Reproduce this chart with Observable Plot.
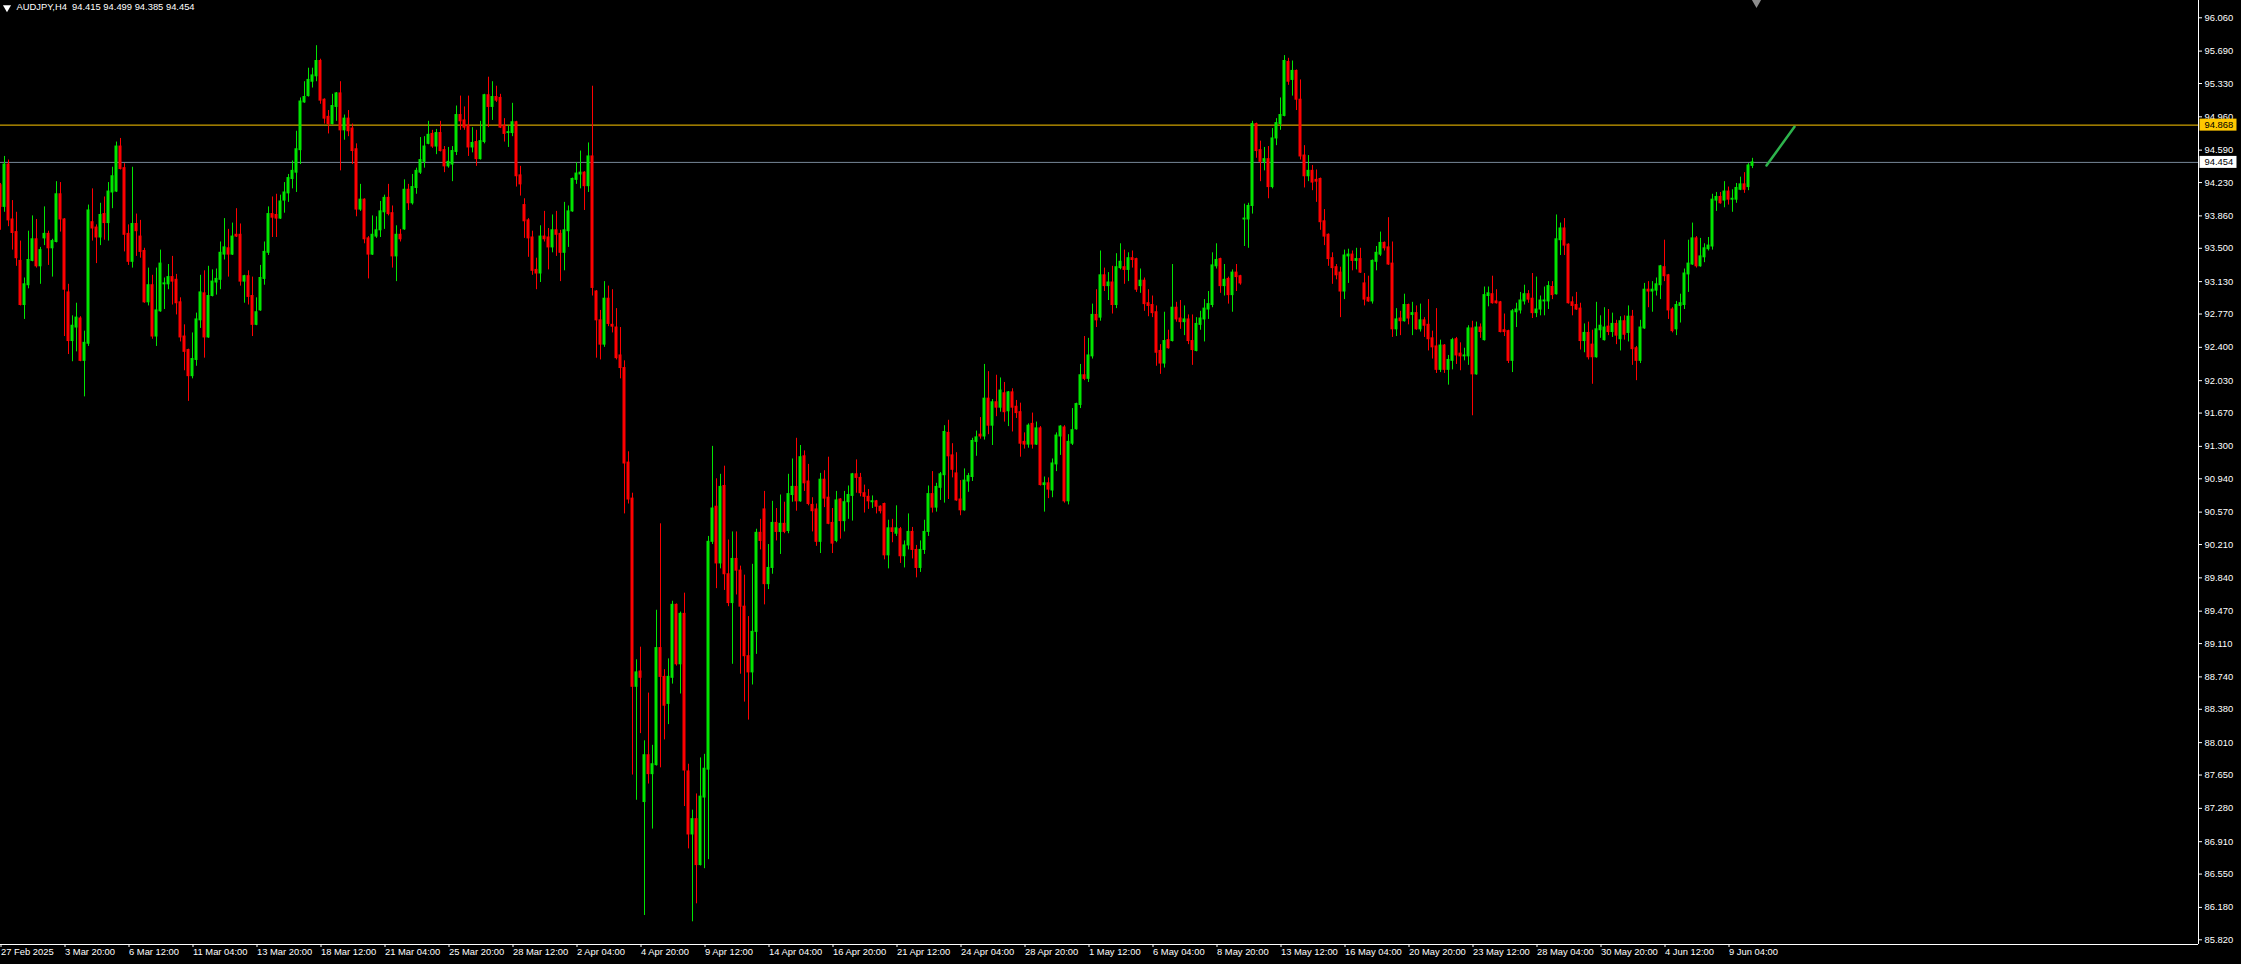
<!DOCTYPE html>
<html><head><meta charset="utf-8">
<script src="https://cdn.jsdelivr.net/npm/d3@7"></script>
<script src="https://cdn.jsdelivr.net/npm/@observablehq/plot@0.6"></script>
<style>
html,body{margin:0;padding:0;background:#000;overflow:hidden;}
#chart svg{display:block;}
</style></head><body><div id="chart"></div>
<script>
const symbolInfo = "AUDJPY,H4  94.415 94.499 94.385 94.454";

const open = [
94.20,93.96,94.43,93.82,93.68,93.36,92.87,93.09,93.36,93.60,93.30,93.61,93.66,93.50,93.57,94.10,93.82,93.01,92.47,92.62,
92.72,92.25,92.44,93.79,93.73,93.62,93.88,93.78,94.12,94.13,94.63,94.39,93.66,93.35,93.77,93.63,93.47,92.90,93.09,92.52,
92.80,93.10,93.10,93.18,93.15,92.90,92.52,92.37,92.08,92.26,92.70,93.00,92.51,92.97,93.12,93.15,93.43,93.50,93.43,93.65,
93.65,93.13,93.19,92.97,92.65,92.81,93.16,93.45,93.88,93.87,93.83,94.03,94.11,94.27,94.34,94.59,95.12,95.19,95.35,95.41,
95.58,95.15,94.96,94.88,95.07,95.22,94.81,94.94,94.83,94.60,93.93,94.04,93.61,93.43,93.63,93.70,93.90,94.06,93.89,93.41,
93.65,93.71,94.15,94.00,94.17,94.34,94.46,94.66,94.77,94.63,94.78,94.59,94.41,94.43,94.57,94.98,94.92,94.86,94.62,94.68,
94.49,94.68,95.20,95.07,95.18,95.17,94.86,94.78,94.78,94.90,94.31,93.98,93.81,93.62,93.26,93.22,93.63,93.62,93.51,93.70,
93.66,93.45,93.69,93.91,94.26,94.32,94.34,94.19,94.52,93.02,92.70,92.43,92.94,92.65,92.62,92.31,92.17,91.12,90.72,88.63,
88.80,87.35,87.87,87.66,87.76,89.06,88.74,88.44,88.73,89.54,88.88,89.44,87.69,86.99,87.16,86.65,87.40,87.71,90.24,90.63,
90.00,90.86,89.88,89.56,90.05,89.92,89.52,88.97,88.79,89.24,90.34,90.60,89.77,89.95,90.45,90.35,90.44,90.36,90.76,90.85,
90.69,91.19,90.91,90.65,90.60,90.24,90.93,90.73,90.45,90.25,90.71,90.47,90.68,90.75,90.99,90.95,90.78,90.74,90.68,90.69,
90.63,90.66,90.09,90.39,90.33,90.38,90.08,90.20,90.35,90.15,89.95,90.15,90.35,90.77,90.62,90.84,90.98,91.45,91.20,91.00,
90.71,90.59,90.91,90.96,91.35,91.43,91.41,91.83,91.53,91.79,91.73,91.89,91.69,91.90,91.74,91.68,91.35,91.32,91.55,91.32,
91.50,90.87,90.89,90.81,91.10,91.41,91.51,90.69,91.33,91.49,91.76,92.09,92.05,92.30,92.76,92.73,93.20,93.08,93.12,92.87,
93.28,93.29,93.26,93.39,93.38,93.08,93.14,92.89,92.87,92.79,92.36,92.22,92.48,92.47,92.84,92.72,92.68,92.71,92.47,92.36,
92.65,92.71,92.82,92.87,93.30,93.38,93.08,93.16,92.98,93.23,93.19,93.82,93.82,93.97,94.88,94.59,94.46,94.49,94.18,94.72,
94.88,94.97,95.57,95.37,95.47,95.15,94.53,94.30,94.36,94.26,94.27,93.80,93.65,93.39,93.29,93.23,93.02,93.41,93.43,93.36,
93.38,93.11,92.95,92.91,93.35,93.43,93.56,93.51,93.33,92.60,92.72,92.69,92.87,92.76,92.78,92.60,92.70,92.65,92.50,92.41,
92.15,92.42,92.15,92.25,92.49,92.33,92.30,92.30,92.61,92.10,92.62,92.48,92.97,92.99,92.91,92.90,92.59,92.58,92.25,92.79,
92.81,92.91,92.99,92.94,92.78,92.82,92.91,92.91,93.07,92.99,93.59,93.72,93.54,92.90,92.87,92.83,92.47,92.56,92.43,92.29,
92.59,92.48,92.63,92.57,92.66,92.49,92.69,92.56,92.74,92.39,92.25,92.61,93.04,93.02,93.03,93.09,93.29,93.20,92.82,92.60,
92.86,92.87,93.21,93.32,93.61,93.30,93.40,93.49,93.52,94.03,94.07,94.03,94.13,94.04,94.04,94.15,94.21,94.18,94.415
];
const high = [
94.22,94.52,94.48,94.03,93.90,93.58,93.17,93.69,93.86,93.82,93.51,93.96,93.69,93.60,94.24,94.23,93.83,93.10,92.75,92.89,
92.74,92.58,93.98,94.16,93.76,94.00,94.07,94.23,94.40,94.68,94.72,94.44,93.76,94.40,93.88,93.81,93.50,93.28,93.20,93.28,
93.48,93.17,93.32,93.41,93.21,92.95,92.65,92.38,92.56,92.78,93.20,93.25,93.30,93.26,93.27,93.57,93.83,93.71,93.78,93.94,
93.77,93.20,93.25,93.18,92.95,93.31,93.57,93.96,94.07,94.10,94.09,94.23,94.32,94.47,94.80,95.17,95.35,95.50,95.50,95.75,
95.60,95.16,95.03,95.21,95.23,95.35,94.98,95.03,94.88,94.66,94.21,94.05,93.63,93.86,93.85,94.02,94.09,94.21,93.97,93.75,
93.71,94.26,94.21,94.32,94.39,94.73,94.74,94.91,94.81,94.82,94.91,94.63,94.62,94.63,95.08,95.19,95.07,95.19,94.84,94.81,
94.91,95.21,95.40,95.35,95.30,95.21,94.94,94.86,95.11,94.91,94.41,94.05,93.83,93.69,93.39,93.75,93.91,93.72,93.87,93.91,
93.70,94.01,93.97,94.28,94.45,94.58,94.35,94.67,95.30,93.03,92.81,93.13,93.08,93.04,92.83,92.62,92.25,91.24,90.78,88.93,
89.07,88.03,88.56,87.98,89.48,90.44,88.82,88.94,89.58,89.55,89.46,89.67,87.77,87.26,87.44,87.84,87.88,90.30,91.30,90.94,
90.99,91.08,90.26,90.35,90.35,89.97,89.87,89.41,89.99,90.38,90.49,90.80,90.21,90.69,90.61,90.76,90.68,90.99,91.16,91.39,
91.31,91.25,91.10,90.73,90.66,91.00,91.03,91.18,90.61,90.80,90.72,90.80,90.86,91.00,91.15,91.00,90.87,90.82,90.75,90.70,
90.64,90.67,90.48,90.49,90.64,90.40,90.25,90.55,90.40,90.20,90.25,90.48,90.86,91.02,90.89,91.01,91.53,91.59,91.33,91.23,
90.92,91.05,91.00,91.39,91.47,91.62,92.21,92.13,91.82,92.09,92.06,92.01,91.91,91.94,91.81,91.78,91.45,91.55,91.67,91.57,
91.52,90.96,90.95,91.16,91.45,91.53,91.53,91.43,91.72,91.78,92.21,92.52,92.50,92.88,93.04,93.47,93.28,93.23,93.30,93.44,
93.55,93.48,93.45,93.47,93.39,93.27,93.17,93.04,92.97,92.86,92.43,92.79,92.59,93.32,92.90,92.92,92.86,92.76,92.76,92.73,
92.80,92.93,93.02,93.45,93.55,93.39,93.32,93.18,93.26,93.32,93.20,93.99,94.00,94.91,94.89,94.69,94.62,94.63,94.83,94.94,
95.17,95.64,95.61,95.58,95.48,95.37,94.64,94.53,94.42,94.37,94.28,93.93,93.66,93.45,93.32,93.29,93.48,93.49,93.47,93.50,
93.50,93.22,93.19,93.37,93.52,93.68,93.57,93.84,93.57,92.83,92.80,92.99,92.88,92.90,92.86,92.88,92.73,92.93,92.58,92.83,
92.48,92.43,92.31,92.50,92.51,92.45,92.39,92.64,92.69,92.68,92.66,93.07,93.07,93.19,93.04,92.91,92.77,92.59,92.82,92.89,
93.01,93.09,93.03,93.22,93.18,92.97,93.07,93.13,93.13,93.87,93.78,93.83,93.55,92.96,93.01,92.89,92.66,92.68,92.59,92.90,
92.75,92.84,92.82,92.78,92.70,92.74,92.75,92.86,92.81,92.41,92.70,93.11,93.13,93.13,93.17,93.31,93.59,93.21,92.84,92.91,
92.99,93.27,93.59,93.78,93.63,93.61,93.55,93.62,94.10,94.12,94.12,94.24,94.18,94.15,94.22,94.29,94.34,94.44,94.499
];
const low = [
93.70,93.90,93.74,93.48,93.30,92.86,92.71,93.05,93.35,93.28,93.10,93.53,93.31,93.18,93.56,93.68,92.52,92.32,92.24,92.35,
92.24,91.85,92.41,93.58,93.33,93.53,93.59,93.58,93.94,94.12,94.37,93.46,93.31,93.28,93.41,93.39,92.89,92.86,92.49,92.41,
92.79,92.82,93.04,92.87,92.76,92.46,92.14,91.80,92.05,92.19,92.61,92.28,92.50,92.96,92.98,93.04,93.37,93.18,93.42,93.62,
93.08,92.89,92.87,92.52,92.64,92.80,93.09,93.42,93.62,93.62,93.82,93.89,94.01,94.16,94.12,94.43,95.11,95.18,95.28,95.35,
95.10,94.88,94.77,94.87,94.91,94.36,94.70,94.74,94.43,93.85,93.91,93.55,93.16,93.42,93.61,93.62,93.71,93.86,93.28,93.13,
93.57,93.70,93.92,93.98,94.10,94.32,94.39,94.65,94.61,94.54,94.57,94.34,94.39,94.24,94.53,94.81,94.81,94.52,94.56,94.41,
94.48,94.66,94.84,94.92,95.12,94.83,94.68,94.62,94.74,94.18,94.08,93.61,93.40,93.20,93.04,93.12,93.57,93.26,93.45,93.41,
93.13,93.25,93.51,93.90,94.21,94.16,93.92,94.12,92.97,92.28,92.26,92.40,92.63,92.56,92.26,92.05,90.55,90.66,87.65,87.37,
88.11,86.09,87.55,87.05,87.75,87.73,88.04,88.21,88.66,88.86,88.55,87.30,86.83,86.02,86.22,86.64,86.61,86.71,90.21,89.72,
89.94,89.70,89.52,88.88,89.65,88.77,88.46,88.26,88.65,88.99,90.15,89.54,89.71,89.88,90.25,90.10,90.33,90.33,90.68,90.58,
90.68,90.80,90.64,90.35,90.19,90.11,90.62,90.43,90.11,90.23,90.27,90.35,90.49,90.47,90.78,90.74,90.56,90.60,90.61,90.55,
90.55,90.04,89.94,90.23,90.30,90.00,89.95,90.15,90.05,89.84,89.90,90.10,90.30,90.56,90.57,90.70,90.67,90.71,90.95,90.69,
90.53,90.58,90.79,90.91,91.19,91.38,91.37,91.43,91.31,91.63,91.68,91.57,91.52,91.46,91.61,91.18,91.27,91.28,91.27,91.31,
90.86,90.57,90.72,90.73,91.02,91.20,90.67,90.65,91.31,91.48,91.72,92.03,92.01,92.27,92.62,92.69,93.02,92.92,92.77,92.83,
93.26,93.10,93.13,93.28,93.01,93.00,92.80,92.74,92.73,92.19,92.10,92.17,92.38,92.46,92.68,92.60,92.53,92.43,92.20,92.35,
92.59,92.46,92.71,92.84,93.27,93.00,92.97,92.88,92.79,93.02,93.09,93.52,93.50,93.88,94.50,94.24,94.36,94.05,94.16,94.64,
94.81,94.96,95.31,95.19,95.03,94.48,94.17,94.24,94.14,94.01,93.70,93.53,93.30,93.10,93.15,92.73,92.93,93.11,93.25,93.26,
93.22,92.86,92.90,92.88,93.25,93.41,93.47,93.31,92.51,92.52,92.53,92.68,92.65,92.53,92.59,92.57,92.51,92.36,92.27,92.11,
92.12,92.11,91.98,92.15,92.21,92.14,92.25,92.20,91.64,92.09,92.50,92.47,92.85,92.88,92.88,92.56,92.52,92.22,92.12,92.62,
92.77,92.87,92.89,92.72,92.73,92.75,92.75,92.82,92.93,92.98,93.42,93.42,92.88,92.75,92.81,92.37,92.34,92.26,91.99,92.28,
92.50,92.47,92.53,92.51,92.43,92.36,92.48,92.46,92.20,92.03,92.22,92.60,92.84,92.79,92.97,92.93,93.13,92.71,92.56,92.53,
92.67,92.82,93.01,93.31,93.28,93.29,93.34,93.47,93.48,93.91,93.99,93.95,93.98,93.90,94.00,94.14,94.11,94.14,94.385
];
const close = [
93.96,94.43,93.81,93.67,93.39,92.87,93.10,93.37,93.60,93.30,93.48,93.66,93.50,93.58,94.10,93.82,93.04,92.47,92.64,92.73,
92.25,92.45,93.92,93.72,93.62,93.87,93.78,94.13,94.30,94.63,94.38,93.65,93.35,93.77,93.69,93.46,92.90,93.09,92.52,92.81,
93.33,93.11,93.18,93.13,92.89,92.51,92.35,92.08,92.27,92.71,93.01,92.51,92.97,93.13,93.16,93.45,93.51,93.43,93.63,93.63,
93.13,93.19,92.96,92.65,92.79,93.17,93.46,93.88,93.84,93.83,94.02,94.12,94.28,94.36,94.60,95.13,95.18,95.37,95.42,95.58,
95.14,94.94,94.88,95.08,95.22,94.81,94.94,94.80,94.58,93.93,94.04,93.60,93.43,93.65,93.70,93.91,94.06,93.88,93.41,93.65,
93.60,94.15,94.00,94.18,94.36,94.48,94.63,94.76,94.63,94.78,94.58,94.41,94.46,94.58,94.98,94.91,94.84,94.62,94.67,94.49,
94.69,95.20,95.07,95.18,95.14,94.84,94.77,94.79,94.90,94.30,94.21,93.80,93.61,93.25,93.22,93.63,93.60,93.51,93.70,93.65,
93.45,93.70,93.91,94.27,94.33,94.34,94.19,94.52,93.06,92.70,92.43,92.94,92.66,92.63,92.28,92.17,91.11,90.71,88.63,88.79,
88.73,87.87,87.66,87.77,89.06,88.74,88.42,88.74,89.54,88.88,89.44,87.70,86.99,87.16,86.65,87.41,87.72,90.24,90.61,90.00,
90.85,89.88,89.56,90.05,89.92,89.52,88.97,88.79,89.24,90.34,90.25,89.77,89.95,90.45,90.35,90.44,90.35,90.77,90.85,90.69,
91.18,90.89,90.66,90.58,90.24,90.93,90.72,90.44,90.22,90.70,90.47,90.68,90.76,90.99,90.95,90.78,90.74,90.69,90.69,90.63,
90.58,90.09,90.39,90.35,90.39,90.08,90.20,90.35,90.15,89.95,90.15,90.35,90.77,90.62,90.85,90.99,91.46,91.19,91.04,90.70,
90.59,90.92,90.97,91.36,91.40,91.41,91.83,91.53,91.79,91.73,91.92,91.68,91.90,91.73,91.67,91.33,91.32,91.53,91.32,91.50,
90.87,90.89,90.82,91.11,91.42,91.52,90.69,91.35,91.48,91.77,92.09,92.05,92.31,92.76,92.70,93.20,93.08,93.12,92.87,93.29,
93.35,93.26,93.39,93.37,93.04,93.14,92.88,92.86,92.78,92.34,92.22,92.47,92.39,92.84,92.71,92.68,92.71,92.47,92.37,92.66,
92.72,92.83,92.88,93.31,93.37,93.08,93.15,92.98,93.23,93.18,93.11,93.83,93.97,94.88,94.58,94.46,94.49,94.18,94.72,94.89,
94.98,95.58,95.35,95.47,95.15,94.52,94.30,94.36,94.23,94.24,93.79,93.63,93.38,93.28,93.20,93.02,93.42,93.43,93.36,93.38,
93.23,92.93,92.91,93.36,93.45,93.56,93.50,93.32,92.60,92.71,92.69,92.87,92.72,92.78,92.60,92.70,92.64,92.49,92.40,92.15,
92.42,92.15,92.26,92.48,92.31,92.30,92.31,92.61,92.10,92.62,92.57,92.98,93.00,92.89,92.89,92.57,92.57,92.25,92.80,92.82,
92.92,92.99,92.93,92.78,92.82,92.92,92.92,93.08,92.98,93.60,93.72,93.53,92.89,92.86,92.82,92.47,92.56,92.29,92.29,92.60,
92.64,92.62,92.57,92.66,92.53,92.69,92.54,92.74,92.38,92.25,92.62,93.04,93.02,93.04,93.10,93.30,93.19,92.81,92.58,92.87,
92.89,93.22,93.33,93.61,93.30,93.41,93.50,93.53,94.04,94.07,94.00,94.13,94.04,94.05,94.17,94.21,94.15,94.42,94.454
];

const priceTicks = [96.06,95.69,95.33,94.96,94.59,94.23,93.86,93.50,93.13,92.77,92.40,92.03,91.67,91.30,90.94,90.57,90.21,89.84,89.47,89.11,88.74,88.38,88.01,87.65,87.28,86.91,86.55,86.18,85.82];
const timeLabels = ["27 Feb 2025","3 Mar 20:00","6 Mar 12:00","11 Mar 04:00","13 Mar 20:00","18 Mar 12:00","21 Mar 04:00","25 Mar 20:00","28 Mar 12:00","2 Apr 04:00","4 Apr 20:00","9 Apr 12:00","14 Apr 04:00","16 Apr 20:00","21 Apr 12:00","24 Apr 04:00","28 Apr 20:00","1 May 12:00","6 May 04:00","8 May 20:00","13 May 12:00","16 May 04:00","20 May 20:00","23 May 12:00","28 May 04:00","30 May 20:00","4 Jun 12:00","9 Jun 04:00"];
const timeLabelBars = [0,16,32,48,64,80,96,112,128,144,160,176,192,208,224,240,256,272,288,304,320,336,352,368,384,400,416,432];
const levels = [{p: 94.868, line: "#ffc800", box: "#ffc800"}, {p: 94.454, line: "#778899", box: "#ffffff"}];
const trendBars = [441.5, 448.5];
const trendPrices = [94.42, 94.85];
const shiftMarkerBar = [439];

const UP = "#00e600", DOWN = "#ff0000";
const bars = open.map((o, i) => ({i, o, h: high[i], l: low[i], c: close[i], col: close[i] >= o ? UP : DOWN}));
const trend = trendBars.map((b, k) => ({b, p: trendPrices[k]}));

const xDomain = [0, 549.5];
const yDomain = [85.768, 96.252];

const chart = Plot.plot({
  width: 2241, height: 964,
  marginLeft: 0, marginTop: 0, marginRight: 43, marginBottom: 20,
  style: {background: "#000", color: "#fff", fontFamily: "'Liberation Sans', Arial, sans-serif", fontSize: "9.4px"},
  x: {type: "linear", domain: xDomain, label: null},
  y: {type: "linear", domain: yDomain, label: null},
  marks: [
    Plot.ruleY(levels, {y: "p", stroke: "line", strokeWidth: 1}),
    Plot.ruleX(bars, {x: "i", y1: "l", y2: "h", stroke: "col", strokeWidth: 1}),
    Plot.rect(bars, {x1: d => d.i - 0.375, x2: d => d.i + 0.375, y1: "o", y2: "c", fill: "col", insetTop: -0.5, insetBottom: -0.5}),
    Plot.line(trend, {x: "b", y: "p", stroke: "#2db34c", strokeWidth: 2.5}),
    Plot.ruleY([yDomain[0]], {stroke: "#fff"}),
    Plot.ruleX([xDomain[1]], {stroke: "#fff"}),
    Plot.axisY({anchor: "right", ticks: priceTicks, tickFormat: d => d.toFixed(3), tickSize: 3, tickPadding: 3, stroke: "#fff", fill: "#fff", label: null}),
    Plot.axisX({anchor: "bottom", ticks: timeLabelBars, tickFormat: d => timeLabels[timeLabelBars.indexOf(d)], tickSize: 3, tickPadding: 1, textAnchor: "start", dx: 0.5, stroke: "#fff", fill: "#fff", label: null}),
    Plot.text(levels, {x: () => xDomain[1], y: "p", text: d => d.p.toFixed(3), textAnchor: "start", dx: 6, fill: "#000", className: "lvl-label"}),
    Plot.text([symbolInfo], {frameAnchor: "top-left", dx: 16, dy: 3, lineAnchor: "top", textAnchor: "start", fill: "#fff"}),
    Plot.dot([0], {frameAnchor: "top-left", dx: 6.5, dy: 7, symbol: "triangle", r: 3, rotate: 180, fill: "#fff"}),
    Plot.dot(shiftMarkerBar, {x: d => d, frameAnchor: "top", dy: 2, symbol: "triangle", r: 3.5, rotate: 180, fill: "#8c8c8c"})
  ]
});
document.getElementById("chart").append(chart);

// background boxes behind the level price labels
d3.select(chart).selectAll("g.lvl-label text").each(function(_, k) {
  const b = this.getBBox();
  const tx = this.getAttribute("transform");
  d3.select(this.parentNode).insert("rect", () => this)
    .attr("transform", tx)
    .attr("x", b.x - 5).attr("y", b.y - 0.5)
    .attr("width", 37).attr("height", b.height + 1)
    .attr("fill", levels[k].box);
});
</script>
</body></html>
